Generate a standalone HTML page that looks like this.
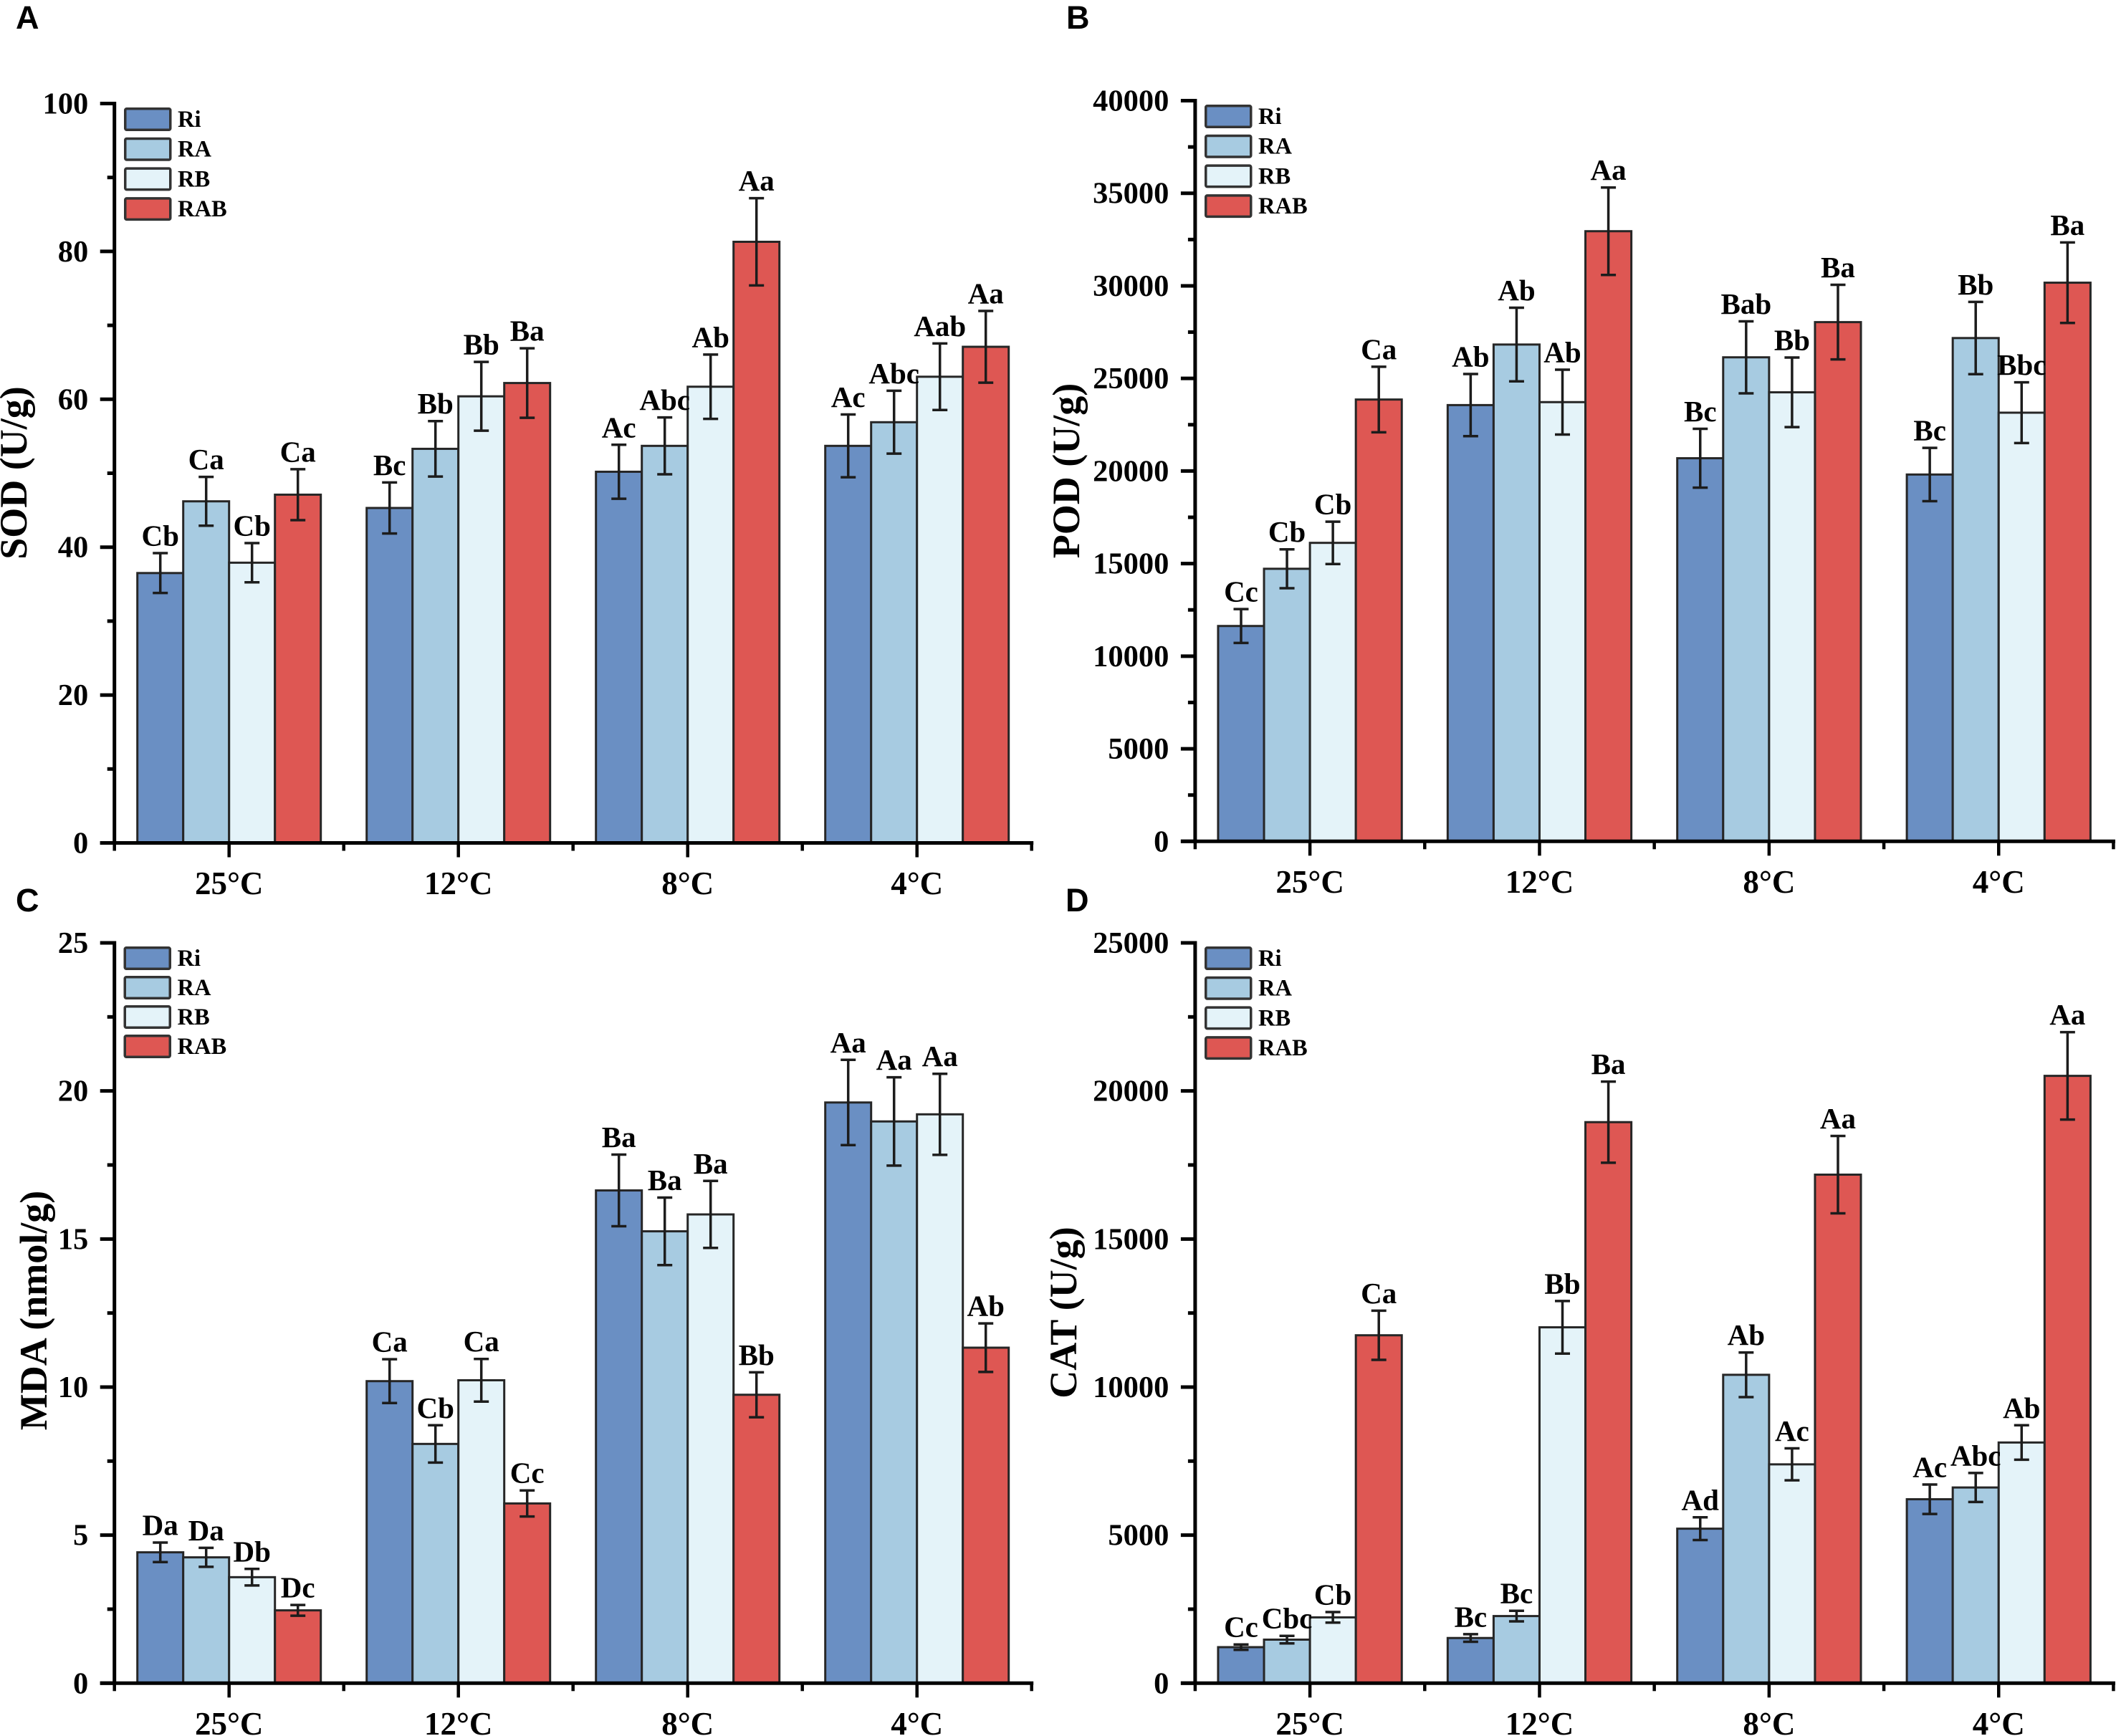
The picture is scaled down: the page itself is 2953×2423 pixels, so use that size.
<!DOCTYPE html>
<html lang="en">
<head>
<meta charset="utf-8">
<title>Antioxidant enzyme activity by temperature</title>
<style>
html,body{margin:0;padding:0;background:#fff;}
svg{display:block;}
text{font-family:"Liberation Serif",serif;font-weight:bold;fill:#000;}
.letter{font-family:"Liberation Sans",sans-serif;font-size:45px;}
.ytitle{font-size:54px;text-anchor:middle;}
</style>
</head>
<body>
<svg id="figure" width="2953" height="2423" viewBox="0 0 2953 2423" xmlns="http://www.w3.org/2000/svg">
<rect x="0" y="0" width="2953" height="2423" fill="#fff"/>
<text class="letter" x="22" y="40">A</text>
<text class="letter" x="1488" y="40">B</text>
<text class="letter" x="22" y="1272">C</text>
<text class="letter" x="1487" y="1272">D</text>
<text class="ytitle" transform="translate(37,660) rotate(-90)">SOD (U/g)</text>
<text class="ytitle" transform="translate(1506,657) rotate(-90)">POD (U/g)</text>
<text class="ytitle" transform="translate(65,1829) rotate(-90)">MDA (nmol/g)</text>
<text class="ytitle" transform="translate(1502,1832) rotate(-90)">CAT (U/g)</text>
</svg>
<script>
const categories = ['25°C', '12°C', '8°C', '4°C'];
const seriesNames = ['Ri', 'RA', 'RB', 'RAB'];

const sodTicks = [0, 20, 40, 60, 80, 100];
const sodRi = [36.5, 45.3, 50.2, 53.7];
const sodRA = [46.2, 53.3, 53.7, 56.9];
const sodRB = [37.9, 60.4, 61.7, 63.05];
const sodRAB = [47.1, 62.2, 81.3, 67.1];
const sodErrRi = [2.7, 3.45, 3.65, 4.25];
const sodErrRA = [3.3, 3.75, 3.85, 4.25];
const sodErrRB = [2.65, 4.65, 4.35, 4.5];
const sodErrRAB = [3.45, 4.7, 5.9, 4.85];
const sodSigRi = ['Cb', 'Bc', 'Ac', 'Ac'];
const sodSigRA = ['Ca', 'Bb', 'Abc', 'Abc'];
const sodSigRB = ['Cb', 'Bb', 'Ab', 'Aab'];
const sodSigRAB = ['Ca', 'Ba', 'Aa', 'Aa'];

const podTicks = [0, 5000, 10000, 15000, 20000, 25000, 30000, 35000, 40000];
const podRi = [11630, 23560, 20690, 19810];
const podRA = [14720, 26830, 26140, 27180];
const podRB = [16120, 23720, 24250, 23150];
const podRAB = [23860, 32950, 28040, 30170];
const podErrRi = [914, 1680, 1590, 1440];
const podErrRA = [1050, 1990, 1945, 1950];
const podErrRB = [1145, 1750, 1880, 1640];
const podErrRAB = [1770, 2360, 2015, 2175];
const podSigRi = ['Cc', 'Ab', 'Bc', 'Bc'];
const podSigRA = ['Cb', 'Ab', 'Bab', 'Bb'];
const podSigRB = ['Cb', 'Ab', 'Bb', 'Bbc'];
const podSigRAB = ['Ca', 'Aa', 'Ba', 'Ba'];

const mdaTicks = [0, 5, 10, 15, 20, 25];
const mdaRi = [4.42, 10.2, 16.64, 19.61];
const mdaRA = [4.25, 8.08, 15.26, 18.97];
const mdaRB = [3.58, 10.23, 15.83, 19.21];
const mdaRAB = [2.46, 6.07, 9.74, 11.33];
const mdaErrRi = [0.33, 0.74, 1.21, 1.44];
const mdaErrRA = [0.32, 0.63, 1.14, 1.49];
const mdaErrRB = [0.28, 0.72, 1.13, 1.37];
const mdaErrRAB = [0.18, 0.44, 0.76, 0.82];
const mdaSigRi = ['Da', 'Ca', 'Ba', 'Aa'];
const mdaSigRA = ['Da', 'Cb', 'Ba', 'Aa'];
const mdaSigRB = ['Db', 'Ca', 'Ba', 'Aa'];
const mdaSigRAB = ['Dc', 'Cc', 'Bb', 'Ab'];

const catTicks = [0, 5000, 10000, 15000, 20000, 25000];
const catRi = [1217, 1526, 5218, 6212];
const catRA = [1471, 2267, 10414, 6609];
const catRB = [2223, 12018, 7390, 8128];
const catRAB = [11749, 18946, 17173, 20509];
const catErrRi = [92, 128, 383, 497];
const catErrRA = [128, 178, 753, 490];
const catErrRB = [178, 888, 540, 582];
const catErrRAB = [830, 1370, 1306, 1477];
const catSigRi = ['Cc', 'Bc', 'Ad', 'Ac'];
const catSigRA = ['Cbc', 'Bc', 'Ab', 'Abc'];
const catSigRB = ['Cb', 'Bb', 'Ac', 'Ab'];
const catSigRAB = ['Ca', 'Ba', 'Aa', 'Aa'];

const seriesFill = ['#6a8fc3', '#a7cbe1', '#e4f3f9', '#de5753'];
const INK = '#1c1c1c';
const svg = document.getElementById('figure');

function make(tag, attrs, parent) {
  const el = document.createElementNS('http://www.w3.org/2000/svg', tag);
  for (const k in attrs) el.setAttribute(k, attrs[k]);
  parent.appendChild(el);
  return el;
}

function drawPanel(p) {
  const halfStep = 160 * p.xSpan;
  const barW = 0.4 * halfStep;
  const xCenter = i => p.x0 + halfStep * (2 * i + 1);
  const yPos = v => p.y0 - (v / p.max) * (p.y0 - p.yTop);

  const g = make('g', {}, svg);
  
  

  // bars, one series at a time
  p.values.forEach((vals, s) => {
    vals.forEach((v, i) => {
      const left = xCenter(i) + (s - 2) * barW;
      const el = make('rect', {
        x: left, y: yPos(v), width: barW, height: p.y0 - yPos(v),
        fill: seriesFill[s], stroke: '#262626', 'stroke-width': 3
      }, g);
      
      
    });
  });

  // error bars and significance letters
  p.values.forEach((vals, s) => {
    vals.forEach((v, i) => {
      const cx = xCenter(i) + (s - 1.5) * barW;
      const hi = yPos(v + p.errors[s][i]);
      const lo = yPos(v - p.errors[s][i]);
      const d = 'M' + cx + ' ' + hi + 'V' + lo +
        'M' + (cx - 10.5) + ' ' + hi + 'H' + (cx + 10.5) +
        'M' + (cx - 10.5) + ' ' + lo + 'H' + (cx + 10.5);
      const eb = make('path', { d: d, fill: 'none', stroke: INK, 'stroke-width': 3.5 }, g);
      
      
      const t = make('text', { x: cx, y: hi - 10.5, 'text-anchor': 'middle', 'font-size': 41 }, g);
      t.textContent = p.sig[s][i];
      
      
    });
  });

  // y axis
  const xRight = p.x0 + halfStep * 8;
  const yAxis = make('line', { x1: p.x0, x2: p.x0, y1: p.yTop - 2.5, y2: p.y0, stroke: '#000', 'stroke-width': 5 }, g);
  
  
  const xAxis = make('line', { x1: p.x0 - 20, x2: xRight + 2.5, y1: p.y0, y2: p.y0, stroke: '#000', 'stroke-width': 5 }, g);
  
  

  p.ticks.forEach((v, k) => {
    const y = yPos(v);
    const tick = make('line', { x1: p.x0 - 20, x2: p.x0, y1: y, y2: y, stroke: '#000', 'stroke-width': 5 }, g);
    
    
    const lab = make('text', { x: p.x0 - 36.5, y: y + 14, 'text-anchor': 'end', 'font-size': 42.5 }, g);
    lab.textContent = v;
    
    
    if (k < p.ticks.length - 1) {
      const my = yPos((v + p.ticks[k + 1]) / 2);
      const minor = make('line', { x1: p.x0 - 10, x2: p.x0, y1: my, y2: my, stroke: '#000', 'stroke-width': 5 }, g);
      
      
    }
  });

  // x axis ticks
  for (let j = 0; j <= 4; j++) {
    const mx = p.x0 + halfStep * 2 * j;
    const minorX = make('line', { x1: mx, x2: mx, y1: p.y0, y2: p.y0 + 11, stroke: '#000', 'stroke-width': 4.5 }, g);
    
    
  }
  categories.forEach((c, i) => {
    const cx = xCenter(i);
    const tick = make('line', { x1: cx, x2: cx, y1: p.y0, y2: p.y0 + 20, stroke: '#000', 'stroke-width': 4.5 }, g);
    
    
    const lab = make('text', { x: cx, y: p.y0 + 71.5, 'text-anchor': 'middle', 'font-size': 45 }, g);
    lab.textContent = c;
    
    
  });

  // legend
  seriesNames.forEach((n, s) => {
    const top = p.legendY + s * p.legendGap;
    const sw = make('rect', {
      x: p.legendX + 1.75, y: top + 1.75, width: 63, height: 29.5, rx: 2,
      fill: seriesFill[s], stroke: '#333', 'stroke-width': 3.5
    }, g);
    
    
    const t = make('text', { x: p.legendX + 75, y: top + 27, 'font-size': 32.5 }, g);
    t.textContent = n;
    
    
  });
}

drawPanel({
  key: 'sod', x0: 159.7, xSpan: 1, y0: 1176.5, yTop: 144.5, max: 100,
  ticks: sodTicks,
  values: [sodRi, sodRA, sodRB, sodRAB],
  errors: [sodErrRi, sodErrRA, sodErrRB, sodErrRAB],
  sig: [sodSigRi, sodSigRA, sodSigRB, sodSigRAB],
  legendX: 173, legendY: 150, legendGap: 41.7
});
drawPanel({
  key: 'pod', x0: 1667.9, xSpan: 1.0012, y0: 1174.3, yTop: 140.5, max: 40000,
  ticks: podTicks,
  values: [podRi, podRA, podRB, podRAB],
  errors: [podErrRi, podErrRA, podErrRB, podErrRAB],
  sig: [podSigRi, podSigRA, podSigRB, podSigRAB],
  legendX: 1681, legendY: 146, legendGap: 41.7
});
drawPanel({
  key: 'mda', x0: 159.7, xSpan: 1, y0: 2349.3, yTop: 1316, max: 25,
  ticks: mdaTicks,
  values: [mdaRi, mdaRA, mdaRB, mdaRAB],
  errors: [mdaErrRi, mdaErrRA, mdaErrRB, mdaErrRAB],
  sig: [mdaSigRi, mdaSigRA, mdaSigRB, mdaSigRAB],
  legendX: 172.5, legendY: 1321, legendGap: 41
});
drawPanel({
  key: 'cat', x0: 1667.9, xSpan: 1.0012, y0: 2349.3, yTop: 1316, max: 25000,
  ticks: catTicks,
  values: [catRi, catRA, catRB, catRAB],
  errors: [catErrRi, catErrRA, catErrRB, catErrRAB],
  sig: [catSigRi, catSigRA, catSigRB, catSigRAB],
  legendX: 1681, legendY: 1321, legendGap: 41.7
});
</script>
</body>
</html>
